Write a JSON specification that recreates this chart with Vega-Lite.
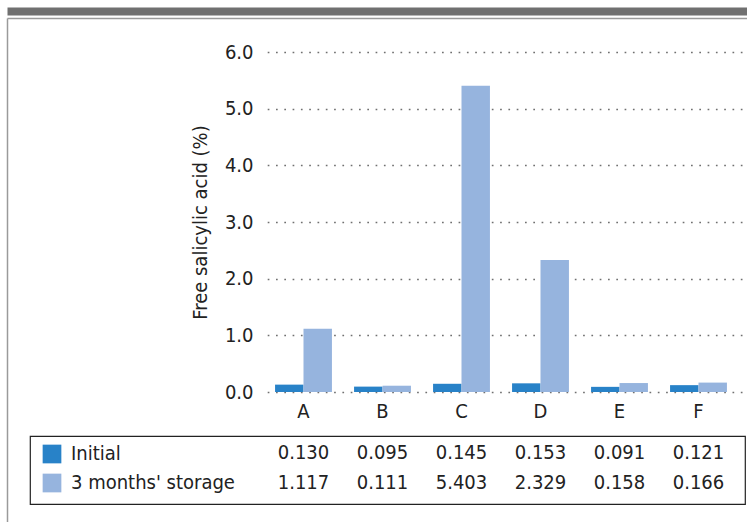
{
  "$schema": "https://vega.github.io/schema/vega-lite/v6.json",
  "padding": {"left": 7, "top": 11, "right": 0, "bottom": 0},
  "background": "white",
  "config": {
    "font": "DejaVu Sans Condensed",
    "view": {"stroke": null},
    "axis": {
      "labelFont": "DejaVu Sans Condensed",
      "labelFontSize": 20,
      "labelColor": "#222222",
      "titleFont": "DejaVu Sans Condensed",
      "titleFontSize": 20,
      "titleFontWeight": "normal",
      "titleColor": "#222222"
    },
    "legend": {
      "labelFont": "DejaVu Sans Condensed",
      "labelFontSize": 20,
      "labelColor": "#222222"
    }
  },
  "datasets": {
    "d": [
      {"sample": "A", "series": "Initial", "value": 0.130},
      {"sample": "B", "series": "Initial", "value": 0.095},
      {"sample": "C", "series": "Initial", "value": 0.145},
      {"sample": "D", "series": "Initial", "value": 0.153},
      {"sample": "E", "series": "Initial", "value": 0.091},
      {"sample": "F", "series": "Initial", "value": 0.121},
      {"sample": "A", "series": "3 months' storage", "value": 1.117},
      {"sample": "B", "series": "3 months' storage", "value": 0.111},
      {"sample": "C", "series": "3 months' storage", "value": 5.403},
      {"sample": "D", "series": "3 months' storage", "value": 2.329},
      {"sample": "E", "series": "3 months' storage", "value": 0.158},
      {"sample": "F", "series": "3 months' storage", "value": 0.166}
    ]
  },
  "spacing": 44,
  "bounds": "flush",
  "vconcat": [
    {
      "width": 715,
      "height": 340,
      "data": {"name": "d"},
      "layer": [
        {
          "mark": {"type": "bar"},
          "encoding": {
            "x": {
              "field": "sample",
              "type": "nominal",
              "scale": {"paddingInner": 0.28, "paddingOuter": 0.14, "range": [234, 708]},
              "axis": {"orient": "bottom", "title": null, "labelAngle": 0, "domain": false, "ticks": false, "grid": false, "labelPadding": 9}
            },
            "xOffset": {
              "field": "series",
              "type": "nominal",
              "sort": ["Initial", "3 months' storage"],
              "scale": {"paddingInner": 0, "paddingOuter": 0}
            },
            "y": {
              "field": "value",
              "type": "quantitative",
              "scale": {"domain": [0, 6]},
              "axis": {
                "orient": "left",
                "offset": -235,
                "domain": false,
                "ticks": false,
                "grid": false,
                "values": [0, 1, 2, 3, 4, 5, 6],
                "format": ".1f",
                "labelPadding": 12,
                "title": "Free salicylic acid (%)",
                "titlePadding": 14
              }
            },
            "color": {
              "field": "series",
              "type": "nominal",
              "sort": ["Initial", "3 months' storage"],
              "scale": {"domain": ["Initial", "3 months' storage"], "range": ["#2882c8", "#96b4de"]},
              "legend": {
                "orient": "none",
                "direction": "vertical",
                "legendX": 12,
                "legendY": 392,
                "title": null,
                "symbolType": "square",
                "symbolSize": 350,
                "symbolStrokeWidth": 0,
                "symbolOpacity": 1,
                "rowPadding": 9,
                "labelOffset": 9,
                "padding": 0,
                "labelLimit": 300
              }
            }
          }
        },
        {
          "mark": {"type": "bar", "opacity": 0},
          "encoding": {
            "x": {
              "field": "sample",
              "type": "nominal",
              "scale": {"range": [-23, 717]},
              "axis": {"orient": "top", "offset": 41, "domain": true, "domainColor": "#707070", "domainWidth": 8, "labels": false, "ticks": false, "grid": false, "title": null}
            },
            "y": {
              "field": "value",
              "type": "quantitative",
              "scale": {"domain": [0, 6]},
              "axis": {
                "orient": "right",
                "offset": -3,
                "domain": false,
                "labels": false,
                "ticks": true,
                "tickSize": -481,
                "tickColor": "#707070",
                "tickWidth": 1.7,
                "tickDash": [1.7, 6.6],
                "values": [0, 1, 2, 3, 4, 5, 6],
                "grid": false,
                "title": null
              }
            }
          }
        },
        {
          "mark": {"type": "bar", "opacity": 0},
          "encoding": {
            "x": {
              "field": "sample",
              "type": "nominal",
              "scale": {"range": [-23, 717]},
              "axis": {"orient": "top", "offset": 34, "domain": true, "domainColor": "#9a9a9a", "domainWidth": 1.5, "labels": false, "ticks": false, "grid": false, "title": null}
            },
            "y": {
              "field": "value",
              "type": "quantitative",
              "scale": {"domain": [0, 6], "range": [470, -34]},
              "axis": {"orient": "left", "offset": 23, "domain": true, "domainColor": "#9a9a9a", "domainWidth": 1.5, "labels": false, "ticks": false, "grid": false, "title": null}
            }
          }
        }
      ],
      "resolve": {
        "scale": {"x": "independent", "y": "independent"},
        "axis": {"x": "independent", "y": "independent"}
      }
    },
    {
      "width": 715,
      "height": 68,
      "view": {"stroke": "#222222", "strokeWidth": 1.2, "fill": null},
      "data": {"name": "d"},
      "mark": {"type": "text", "fontSize": 20, "color": "#222222", "font": "DejaVu Sans Condensed", "baseline": "middle"},
      "encoding": {
        "x": {
          "field": "sample",
          "type": "nominal",
          "scale": {"paddingInner": 0.28, "paddingOuter": 0.14, "range": [234, 708]},
          "axis": null
        },
        "y": {
          "field": "series",
          "type": "nominal",
          "sort": ["Initial", "3 months' storage"],
          "scale": {"type": "point", "padding": 0.633, "align": 0.447},
          "axis": null
        },
        "text": {"field": "value", "type": "quantitative", "format": ".3f"}
      }
    }
  ]
}
